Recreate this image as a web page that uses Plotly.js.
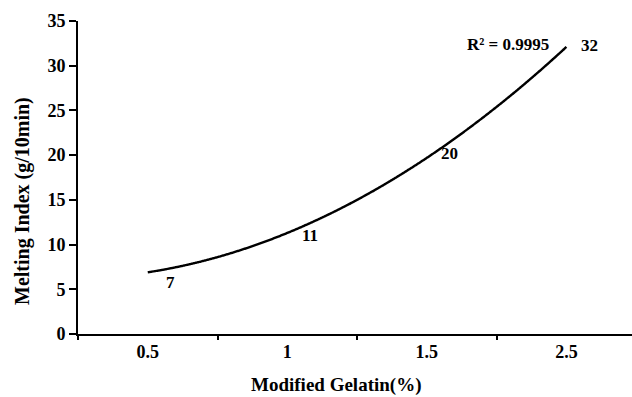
<!DOCTYPE html>
<html>
<head>
<meta charset="utf-8">
<script src="https://cdn.plot.ly/plotly-3.0.1.min.js"></script>
<style>html,body{margin:0;padding:0;background:#fff;}#chart{width:632px;height:397px;}</style>
</head>
<body>
<div id="chart"></div>
<script>
// Data
const categories = ["0.5", "1", "1.5", "2.5"];
const meltingIndex = [7, 11, 20, 32];
const yTicks = [0, 5, 10, 15, 20, 25, 30, 35];
const r2Label = "R² = 0.9995";
const xTitle = "Modified Gelatin(%)";
const yTitle = "Melting Index (g/10min)";

// Second-order polynomial trendline (least squares) fitted to the data, as in the original
function polyFit2(xs, ys) {
  let n = xs.length, s1=0,s2=0,s3=0,s4=0,t0=0,t1=0,t2=0;
  for (let i=0;i<n;i++){const x=xs[i],y=ys[i];s1+=x;s2+=x*x;s3+=x*x*x;s4+=x*x*x*x;t0+=y;t1+=x*y;t2+=x*x*y;}
  const M=[[n,s1,s2,t0],[s1,s2,s3,t1],[s2,s3,s4,t2]];
  for(let i=0;i<3;i++){for(let k=i+1;k<3;k++){const f=M[k][i]/M[i][i];for(let j=i;j<4;j++)M[k][j]-=f*M[i][j];}}
  const c=[0,0,0];
  for(let i=2;i>=0;i--){let s=M[i][3];for(let j=i+1;j<3;j++)s-=M[i][j]*c[j];c[i]=s/M[i][i];}
  return c;
}
const xIdx = categories.map((_, i) => i);
const coef = polyFit2(xIdx, meltingIndex);
const fitX = [], fitY = [];
for (let k = 0; k <= 300; k++) {
  const x = xIdx[0] + (xIdx[xIdx.length-1] - xIdx[0]) * k / 300;
  fitX.push(x); fitY.push(coef[0] + coef[1]*x + coef[2]*x*x);
}

const font = {family: "Liberation Serif", color: "#000"};
const f = (size) => Object.assign({size: size}, font);
const b = (s) => "<b>" + s + "</b>";

const traces = [{
  x: fitX, y: fitY, type: "scatter", mode: "lines",
  line: {color: "#000", width: 2.4, shape: "spline"}, hoverinfo: "skip", showlegend: false
}, {
  // invisible trace to drive the boundary tick marks axis
  x: [-0.5], y: [0], xaxis: "x2", type: "scatter", mode: "markers",
  marker: {opacity: 0}, showlegend: false, hoverinfo: "skip"
}];

const annotations = meltingIndex.map((v, i) => ({
  x: xIdx[i], y: v, xref: "x", yref: "y", text: b(v),
  showarrow: false, xshift: 23, yshift: i === 0 ? -11 : (i === 2 ? 2 : (i === 3 ? 2 : 0)),
  font: f(17)
}));
annotations.push({
  x: xIdx[3], y: meltingIndex[3], xref: "x", yref: "y", text: b(r2Label),
  showarrow: false, xanchor: "right", xshift: -15, yshift: 3,
  font: f(17)
});
// axis titles placed as in the reference (offset from plot-area centre)
annotations.push({
  xref: "paper", yref: "paper", x: (336 - 78) / 554, y: (334 - 385) / 313,
  xanchor: "center", yanchor: "middle", showarrow: false,
  text: b(xTitle), font: f(19)
});
annotations.push({
  xref: "paper", yref: "paper", x: (23 - 78) / 554, y: (334 - 201) / 313,
  xanchor: "center", yanchor: "middle", showarrow: false, textangle: -90,
  text: b(yTitle), font: f(20)
});

const layout = {
  width: 632, height: 397,
  margin: {l: 78, r: 0, t: 21, b: 63},
  paper_bgcolor: "#fff", plot_bgcolor: "#fff",
  showlegend: false,
  xaxis: {
    range: [-0.5, 3.47], tickvals: xIdx, ticktext: categories.map(b),
    ticks: "", showgrid: false, zeroline: false,
    showline: true, linecolor: "#000", linewidth: 2,
    tickfont: f(18)
  },
  xaxis2: {
    overlaying: "x", side: "bottom", range: [-0.5, 3.47],
    tickvals: [-0.5, 0.5, 1.5, 2.5, 3.5], showticklabels: false,
    ticks: "outside", ticklen: 5, tickwidth: 2, tickcolor: "#000",
    showgrid: false, zeroline: false, showline: false
  },
  yaxis: {
    range: [0, 35], tickvals: yTicks, ticktext: yTicks.map(b),
    ticks: "outside", ticklen: 7, tickwidth: 2, tickcolor: "#000",
    showgrid: false, zeroline: false,
    showline: true, linecolor: "#000", linewidth: 2,
    tickfont: f(18)
  },
  annotations: annotations
};

Plotly.newPlot("chart", traces, layout, {staticPlot: true, displayModeBar: false});
</script>
</body>
</html>
